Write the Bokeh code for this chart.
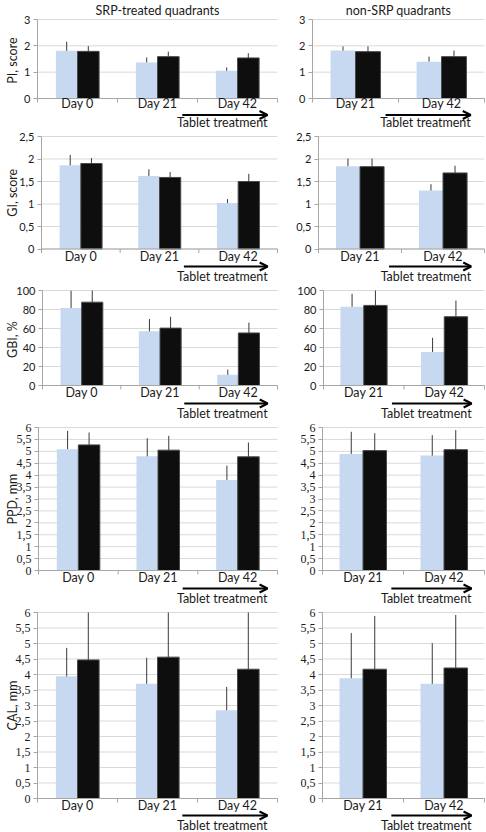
import numpy as np
from bokeh.plotting import figure
from bokeh.models import (Range1d, FixedTicker, Arrow, OpenHead, Label,
                          ColumnDataSource)
from bokeh.layouts import column, row
from bokeh.embed import file_html
from bokeh.resources import INLINE
from bokeh.core.properties import value

# ---------------- data ----------------
days_srp = ["Day 0", "Day 21", "Day 42"]
days_non = ["Day 21", "Day 42"]

titles = ["SRP-treated quadrants", "non-SRP quadrants"]
y_labels = ["PI,  score", "GI, score", "GBI,  %", "PPD, mm", "CAL, mm"]
arrow_text = "Tablet treatment"

# PI, score
pi_srp_blue = [1.81, 1.37, 1.05]
pi_srp_blue_sd = [0.35, 0.19, 0.13]
pi_srp_black = [1.79, 1.59, 1.54]
pi_srp_black_sd = [0.20, 0.19, 0.18]
pi_non_blue = [1.82, 1.40]
pi_non_blue_sd = [0.16, 0.19]
pi_non_black = [1.78, 1.59]
pi_non_black_sd = [0.20, 0.23]

# GI, score
gi_srp_blue = [1.86, 1.62, 1.02]
gi_srp_blue_sd = [0.23, 0.15, 0.09]
gi_srp_black = [1.90, 1.59, 1.50]
gi_srp_black_sd = [0.12, 0.12, 0.17]
gi_non_blue = [1.84, 1.30]
gi_non_blue_sd = [0.17, 0.14]
gi_non_black = [1.83, 1.69]
gi_non_black_sd = [0.18, 0.16]

# GBI, %
gbi_srp_blue = [81.6, 57.0, 11.3]
gbi_srp_blue_sd = [18.1, 13.0, 5.4]
gbi_srp_black = [87.7, 60.4, 55.3]
gbi_srp_black_sd = [13.3, 12.0, 10.9]
gbi_non_blue = [82.9, 35.2]
gbi_non_blue_sd = [13.7, 15.0]
gbi_non_black = [84.3, 72.4]
gbi_non_black_sd = [16.7, 17.0]

# PPD, mm
ppd_srp_blue = [5.09, 4.79, 3.80]
ppd_srp_blue_sd = [0.77, 0.76, 0.60]
ppd_srp_black = [5.27, 5.05, 4.77]
ppd_srp_black_sd = [0.52, 0.60, 0.60]
ppd_non_blue = [4.89, 4.82]
ppd_non_blue_sd = [0.93, 0.86]
ppd_non_black = [5.03, 5.07]
ppd_non_black_sd = [0.73, 0.82]

# CAL, mm
cal_srp_blue = [3.94, 3.70, 2.85]
cal_srp_blue_sd = [0.92, 0.84, 0.75]
cal_srp_black = [4.47, 4.56, 4.17]
cal_srp_black_sd = [2.10, 2.05, 2.20]
cal_non_blue = [3.88, 3.70]
cal_non_blue_sd = [1.46, 1.31]
cal_non_black = [4.17, 4.21]
cal_non_black_sd = [1.72, 1.71]

# axis ticks
pi_ticks = [0, 1, 2, 3]
pi_tick_labels = ["0", "1", "2", "3"]
gi_ticks = [0, 0.5, 1, 1.5, 2, 2.5]
gi_tick_labels = ["0", "0,5", "1", "1,5", "2", "2,5"]
gbi_ticks = [0, 20, 40, 60, 80, 100]
gbi_tick_labels = ["0", "20", "40", "60", "80", "100"]
mm_ticks = [0, 0.5, 1, 1.5, 2, 2.5, 3, 3.5, 4, 4.5, 5, 5.5, 6]
mm_tick_labels = ["0", "0,5", "1", "1,5", "2", "2,5", "3", "3,5", "4", "4,5", "5", "5,5", "6"]

# ---------------- style ----------------
BLUE = "#C6D9F1"
BLACK = "#0E0E0E"
ERR = "#3A3A3A"
GRID = "#D9D9D9"
AXIS = "#A6A6A6"
TXT = "#1A1A1A"
SANS = "Lato"
SERIF = "Liberation Serif"

LEFT_W, RIGHT_W = 280, 206


def panel(days, blue, blue_sd, black, black_sd, ticks, tick_labels,
          width, height, lpx, rpx, tpx, bpx, bar_w, arrow_frac, offs,
          ylabel=None, title=None, serif=False):
    """lpx/rpx/tpx/bpx: pixels around the value area (0..n, 0..ymax)."""
    n = len(days)
    ymax = ticks[-1]
    xpx = n / (width - lpx - rpx)          # data units per pixel (x)
    ypx = ymax / (height - tpx - bpx)      # data units per pixel (y)
    p = figure(width=width, height=height,
               x_range=Range1d(-lpx * xpx, n + rpx * xpx),
               y_range=Range1d(-bpx * ypx, ymax + tpx * ypx),
               output_backend="svg", toolbar_location=None,
               x_axis_location=None, min_border=0)
    p.min_border_left = p.min_border_right = 0
    p.min_border_top = p.min_border_bottom = 0
    p.outline_line_color = None
    p.border_fill_color = "white"
    p.background_fill_color = "white"
    p.xgrid.visible = False
    p.ygrid.visible = False

    # horizontal grid lines at the value ticks, across the category span
    p.segment(x0=np.zeros(len(ticks)), x1=np.full(len(ticks), n),
              y0=ticks, y1=ticks, line_color=GRID, line_width=1)

    centers = np.arange(n) + 0.5
    src = ColumnDataSource(dict(
        xb=centers - bar_w / 2, xk=centers + bar_w / 2,
        blue=blue, blue_top=np.minimum(np.add(blue, blue_sd), ymax),
        black=black, black_top=np.minimum(np.add(black, black_sd), ymax)))
    p.vbar(x="xb", top="blue", bottom=0, width=bar_w, fill_color=BLUE,
           line_color=None, source=src)
    p.vbar(x="xk", top="black", bottom=0, width=bar_w, fill_color=BLACK,
           line_color="#4A4A4A", line_width=1, source=src)
    p.segment(x0="xb", y0="blue", x1="xb", y1="blue_top", line_color=ERR,
              line_width=1, source=src)
    p.segment(x0="xk", y0="black", x1="xk", y1="black_top", line_color=ERR,
              line_width=1, source=src)

    # category axis at value 0: line, boundary ticks, day labels
    p.segment(x0=[0], y0=[0], x1=[n], y1=[0], line_color=AXIS, line_width=1)
    edges = np.arange(n + 1)
    p.segment(x0=edges, y0=np.zeros(n + 1), x1=edges,
              y1=np.full(n + 1, -4 * ypx), line_color=AXIS, line_width=1)
    p.text(x=centers, y=np.zeros(n), text=days, text_align="center",
           text_baseline="middle", y_offset=offs[0], text_font=value(SANS),
           text_font_size="12.5px", text_color=TXT)

    # value axis at category position 0
    ya = p.yaxis[0]
    ya.fixed_location = 0
    ya.bounds = (0, ymax)
    ya.ticker = FixedTicker(ticks=ticks, minor_ticks=[])
    ya.major_label_overrides = {float(t): s for t, s in zip(ticks, tick_labels)}
    ya.axis_line_color = AXIS
    ya.major_tick_line_color = AXIS
    ya.major_tick_out = 4
    ya.major_tick_in = 0
    ya.major_label_standoff = 3
    ya.major_label_text_font = SERIF if serif else SANS
    ya.major_label_text_font_size = "12px" if serif else "11px"
    ya.major_label_text_color = TXT

    if ylabel:
        p.add_layout(Label(x=-(lpx - 12) * xpx, y=ymax / 2, text=ylabel,
                           angle=np.pi / 2, text_align="center",
                           text_baseline="middle", text_font=SANS,
                           text_font_size="12.5px", text_color=TXT))
    if title:
        p.add_layout(Label(x=n / 2, y=ymax + (tpx - 10) * ypx, text=title,
                           text_align="center", text_baseline="middle",
                           text_font=SANS, text_font_size="12.5px",
                           text_color=TXT))

    # "Tablet treatment" arrow below the day labels
    p.add_layout(Arrow(x_start=arrow_frac[0], y_start=-offs[1] * ypx,
                       x_end=arrow_frac[1], y_end=-offs[1] * ypx,
                       line_width=2, line_color="black",
                       end=OpenHead(size=8, line_width=2, line_color="black")))
    p.add_layout(Label(x=arrow_frac[1], y=-offs[2] * ypx, text=arrow_text,
                       text_align="right", text_baseline="middle",
                       text_font=SANS, text_font_size="12.5px",
                       text_color=TXT))
    return p


# layout per row: height, pixels above the top value, pixels below value 0,
# left pixels (left / right panel), offsets below 0 (day label, arrow, text)
rows_spec = [
    dict(h=129, t=19, b=31, ll=37, lr=32, offs=(5, 16.5, 23.5)),
    dict(h=154, t=7, b=34.5, ll=41, lr=38, offs=(7, 17.5, 27)),
    dict(h=137, t=7, b=35, ll=42, lr=43, offs=(7, 18, 27.5)),
    dict(h=185, t=7, b=35, ll=38, lr=42, offs=(7, 18, 27.5)),
    dict(h=227, t=7, b=34, ll=37, lr=42, offs=(7, 17, 26.5)),
]

srp_data = [
    (pi_srp_blue, pi_srp_blue_sd, pi_srp_black, pi_srp_black_sd, pi_ticks, pi_tick_labels),
    (gi_srp_blue, gi_srp_blue_sd, gi_srp_black, gi_srp_black_sd, gi_ticks, gi_tick_labels),
    (gbi_srp_blue, gbi_srp_blue_sd, gbi_srp_black, gbi_srp_black_sd, gbi_ticks, gbi_tick_labels),
    (ppd_srp_blue, ppd_srp_blue_sd, ppd_srp_black, ppd_srp_black_sd, mm_ticks, mm_tick_labels),
    (cal_srp_blue, cal_srp_blue_sd, cal_srp_black, cal_srp_black_sd, mm_ticks, mm_tick_labels),
]
non_data = [
    (pi_non_blue, pi_non_blue_sd, pi_non_black, pi_non_black_sd, pi_ticks, pi_tick_labels),
    (gi_non_blue, gi_non_blue_sd, gi_non_black, gi_non_black_sd, gi_ticks, gi_tick_labels),
    (gbi_non_blue, gbi_non_blue_sd, gbi_non_black, gbi_non_black_sd, gbi_ticks, gbi_tick_labels),
    (ppd_non_blue, ppd_non_blue_sd, ppd_non_black, ppd_non_black_sd, mm_ticks, mm_tick_labels),
    (cal_non_blue, cal_non_blue_sd, cal_non_black, cal_non_black_sd, mm_ticks, mm_tick_labels),
]

rows = []
for i, s in enumerate(rows_spec):
    b, bsd, k, ksd, t, tl = srp_data[i]
    left = panel(days_srp, b, bsd, k, ksd, t, tl, LEFT_W, s["h"],
                 s["ll"], 3, s["t"], s["b"], 0.27, (1.81, 2.875), s["offs"],
                 ylabel=y_labels[i], title=titles[0] if i == 0 else None,
                 serif=i >= 3)
    b, bsd, k, ksd, t, tl = non_data[i]
    right = panel(days_non, b, bsd, k, ksd, t, tl, RIGHT_W, s["h"],
                  s["lr"], 2, s["t"], s["b"], 0.29, (0.85, 1.84), s["offs"],
                  title=titles[1] if i == 0 else None, serif=i >= 3)
    rows.append(row(left, right))

layout = column(*rows)
open("out.html", "w").write(file_html(layout, INLINE))
